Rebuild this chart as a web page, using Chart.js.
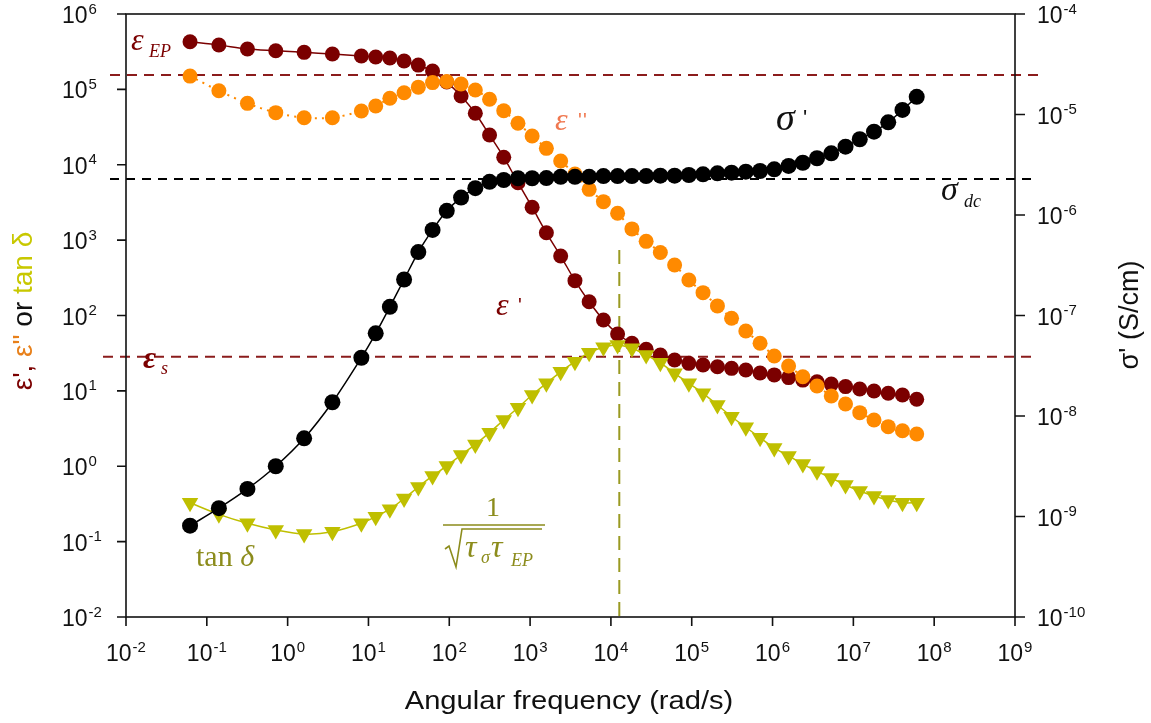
<!DOCTYPE html>
<html>
<head>
<meta charset="utf-8">
<script src="https://cdn.jsdelivr.net/npm/chart.js@4/dist/chart.umd.min.js"></script>
<style>
  html, body { margin: 0; padding: 0; background: #fff; }
  canvas { display: block; }
</style>
</head>
<body>
<canvas id="chart" width="1151" height="723"></canvas>
<script>
// angular frequency (rad/s), shared by all four series
const omega = [0.062, 0.141, 0.318, 0.713, 1.60, 3.58, 8.17, 12.3, 18.4, 27.6,
  41.4, 62.1, 93.1, 140, 210, 315, 472, 708, 1060, 1590,
  2390, 3590, 5380, 8080, 12100, 18200, 27300, 40900, 61400, 92200,
  138000, 208000, 311000, 467000, 701000, 1.05e6, 1.58e6, 2.37e6, 3.55e6, 5.33e6,
  8.0e6, 1.2e7, 1.8e7, 2.7e7, 4.05e7, 6.08e7];

// eps' (left axis)
const epsReal = [4.29e5, 3.88e5, 3.43e5, 3.26e5, 3.10e5, 2.95e5, 2.77e5, 2.69e5, 2.61e5, 2.38e5,
  2.10e5, 1.75e5, 1.25e5, 8.17e4, 4.82e4, 2.48e4, 1.26e4, 5.78e3, 2.73e3, 1.25e3,
  615, 290, 152, 87.1, 56.9, 42.8, 35.6, 29.9, 25.7, 23.2,
  22.0, 20.9, 19.9, 18.9, 17.3, 16.3, 15.0, 13.9, 13.2, 12.3,
  11.4, 10.6, 9.96, 9.29, 8.81, 7.73];

// eps'' (left axis)
const epsImag = [1.50e5, 9.59e4, 6.53e4, 4.91e4, 4.21e4, 4.21e4, 5.16e4, 6.02e4, 7.62e4, 9.04e4,
  1.07e5, 1.23e5, 1.27e5, 1.18e5, 9.82e4, 7.39e4, 5.21e4, 3.55e4, 2.41e4, 1.65e4,
  1.12e4, 7.54e3, 4.72e3, 3.24e3, 2.27e3, 1.41e3, 964, 685, 468, 296,
  201, 134, 91.8, 62.3, 42.8, 29.0, 21.4, 15.4, 11.6, 8.55,
  6.70, 5.14, 4.11, 3.35, 2.96, 2.68];

// tan delta (left axis)
const tanDelta = [0.328, 0.230, 0.175, 0.143, 0.126, 0.135, 0.175, 0.214, 0.269, 0.373,
  0.531, 0.743, 1.01, 1.41, 1.95, 2.79, 4.11, 5.98, 8.82, 12.6,
  17.9, 24.4, 32.1, 37.8, 40.6, 36.7, 29.9, 23.6, 17.1, 12.6,
  9.28, 6.50, 4.54, 3.29, 2.39, 1.75, 1.37, 1.07, 0.857, 0.699,
  0.564, 0.470, 0.403, 0.356, 0.328, 0.328];

// sigma' in S/cm (right axis)
const sigmaReal = [8.1e-10, 1.21e-9, 1.88e-9, 3.16e-9, 6.0e-9, 1.37e-8, 3.80e-8, 6.65e-8, 1.22e-7, 2.28e-7,
  4.28e-7, 7.1e-7, 1.10e-6, 1.49e-6, 1.85e-6, 2.14e-6, 2.23e-6, 2.32e-6, 2.32e-6, 2.33e-6,
  2.40e-6, 2.40e-6, 2.40e-6, 2.44e-6, 2.44e-6, 2.44e-6, 2.44e-6, 2.46e-6, 2.46e-6, 2.50e-6,
  2.54e-6, 2.60e-6, 2.64e-6, 2.70e-6, 2.74e-6, 2.85e-6, 3.08e-6, 3.31e-6, 3.67e-6, 4.11e-6,
  4.79e-6, 5.67e-6, 6.75e-6, 8.36e-6, 1.11e-5, 1.50e-5];

// reference levels
const epsEP = 1.55e5;
const epsS = 28.4;
const sigmaDC = 2.28e-6;
const omegaPeak = 1.27e4;
const omegaPeakTop = 740; // upper end of the vertical marker, left-axis units

// decade tick exponents
const xExps = [-2, -1, 0, 1, 2, 3, 4, 5, 6, 7, 8, 9];
const yExps = [-2, -1, 0, 1, 2, 3, 4, 5, 6];
const y2Exps = [-10, -9, -8, -7, -6, -5, -4];

const RED = '#7b0000';
const ORANGE = '#ff8a00';
const YELLOW = '#bfbf00';
const OLIVE = '#8c8c1c';
const SANS = '"Liberation Sans", Arial, sans-serif';
const SERIF = '"Liberation Serif", "Times New Roman", serif';

const pts = (ys) => omega.map((w, i) => ({ x: w, y: ys[i] }));

function txt(ctx, s, x, y, font, color, align, sx) {
  ctx.save();
  ctx.font = font;
  ctx.fillStyle = color;
  ctx.textAlign = align || 'left';
  ctx.textBaseline = 'alphabetic';
  ctx.translate(x, y);
  ctx.scale(sx || 1, 1);
  ctx.fillText(s, 0, 0);
  ctx.restore();
}

function dashed(ctx, x1, y1, x2, y2, color, dash) {
  ctx.save();
  ctx.strokeStyle = color;
  ctx.lineWidth = 2;
  ctx.setLineDash(dash);
  ctx.beginPath();
  ctx.moveTo(x1, y1);
  ctx.lineTo(x2, y2);
  ctx.stroke();
  ctx.restore();
}

// "10" with a raised exponent
function pow10(ctx, e, x, y, align) {
  const base = '23px ' + SANS, sup = '15px ' + SANS;
  ctx.font = base;
  const w1 = ctx.measureText('10').width;
  ctx.font = sup;
  const w2 = ctx.measureText(String(e)).width;
  const x0 = align === 'center' ? x - (w1 + w2 + 1) / 2 : x;
  txt(ctx, '10', x0, y, base, '#111');
  txt(ctx, String(e), x0 + w1 + 1, y - 9.5, sup, '#111');
}

// rotated multi-colour text, reading bottom to top
function vtext(ctx, parts, cx, cy, font) {
  ctx.save();
  ctx.font = font;
  const total = parts.reduce((s, p) => s + ctx.measureText(p[0]).width, 0);
  ctx.translate(cx, cy);
  ctx.rotate(-Math.PI / 2);
  let xx = -total / 2;
  ctx.textBaseline = 'alphabetic';
  parts.forEach((p) => {
    ctx.fillStyle = p[1];
    ctx.fillText(p[0], xx, 0);
    xx += ctx.measureText(p[0]).width;
  });
  ctx.restore();
}

const decor = {
  id: 'decor',
  beforeDatasetsDraw(chart) {
    const { ctx, chartArea: a, scales: { x, y, y2 } } = chart;
    const yEP = y.getPixelForValue(epsEP);
    const yS = y.getPixelForValue(epsS);
    const yDC = y2.getPixelForValue(sigmaDC);
    dashed(ctx, a.left - 16, yEP, a.right + 27, yEP, '#8b1c1c', [10, 7]);
    dashed(ctx, a.left - 16, yDC, a.right + 23, yDC, '#000', [9, 7]);
    dashed(ctx, a.left - 23, yS, a.right + 20, yS, '#8b1c1c', [10, 7]);
    const px = x.getPixelForValue(omegaPeak);
    dashed(ctx, px, y.getPixelForValue(omegaPeakTop), px, a.bottom, '#9a9a22', [14, 8]);
  },
  afterDraw(chart) {
    const { ctx, chartArea: a, scales: { x, y, y2 } } = chart;
    ctx.save();
    ctx.strokeStyle = '#111';
    ctx.lineWidth = 1.6;
    ctx.strokeRect(a.left, a.top, a.right - a.left, a.bottom - a.top);
    ctx.beginPath();
    xExps.forEach((e) => {
      const px = x.getPixelForValue(Math.pow(10, e));
      ctx.moveTo(px, a.bottom);
      ctx.lineTo(px, a.bottom + 9);
    });
    yExps.forEach((e) => {
      const py = y.getPixelForValue(Math.pow(10, e));
      ctx.moveTo(a.left - 9, py);
      ctx.lineTo(a.left, py);
    });
    y2Exps.forEach((e) => {
      const py = y2.getPixelForValue(Math.pow(10, e));
      ctx.moveTo(a.right, py);
      ctx.lineTo(a.right + 10, py);
    });
    ctx.stroke();
    ctx.restore();

    xExps.forEach((e) => pow10(ctx, e, x.getPixelForValue(Math.pow(10, e)), a.bottom + 44, 'center'));
    yExps.forEach((e) => pow10(ctx, e, 62, y.getPixelForValue(Math.pow(10, e)) + 9, 'left'));
    y2Exps.forEach((e) => pow10(ctx, e, 1037, y2.getPixelForValue(Math.pow(10, e)) + 9, 'left'));

    // axis titles
    txt(ctx, 'Angular frequency (rad/s)', 569, 709, '26px ' + SANS, '#111', 'center', 1.12);
    vtext(ctx, [["ε', ", RED], ['ε" ', '#e8801a'], ['or ', '#111'], ['tan δ', '#c8c800']], 32, 311, '28px ' + SANS);
    vtext(ctx, [["σ' (S/cm)", '#111']], 1138, 315, '27px ' + SANS);

    // curve annotations
    txt(ctx, 'ε', 131, 50, 'italic 32px ' + SERIF, RED);
    txt(ctx, 'EP', 149, 57, 'italic 18px ' + SERIF, RED);

    txt(ctx, 'ε', 555, 130, 'italic 32px ' + SERIF, '#f07850');
    txt(ctx, "'", 578, 127, '20px ' + SANS, '#f07850');
    txt(ctx, "'", 583, 127, '20px ' + SANS, '#f07850');

    txt(ctx, 'σ', 776, 130, 'italic 38px ' + SERIF, '#111');
    txt(ctx, "'", 803, 125, '22px ' + SANS, '#111');

    txt(ctx, 'σ', 941, 200, 'italic 34px ' + SERIF, '#111');
    txt(ctx, 'dc', 964, 207, 'italic 18px ' + SERIF, '#111');

    txt(ctx, 'ε', 496, 315, 'italic 32px ' + SERIF, RED);
    txt(ctx, "'", 518, 312, '20px ' + SANS, RED);

    txt(ctx, 'ε', 143, 368, 'bold italic 32px ' + SERIF, RED);
    txt(ctx, 's', 161, 374, 'italic 18px ' + SERIF, RED);

    txt(ctx, 'tan ', 196, 566, '30px ' + SERIF, OLIVE);
    ctx.font = '30px ' + SERIF;
    txt(ctx, 'δ', 196 + ctx.measureText('tan ').width, 566, 'italic 30px ' + SERIF, OLIVE);

    // 1 / sqrt(tau_sigma tau_EP)
    txt(ctx, '1', 493, 516, '28px ' + SERIF, OLIVE, 'center');
    ctx.save();
    ctx.strokeStyle = OLIVE;
    ctx.lineWidth = 1.6;
    ctx.beginPath();
    ctx.moveTo(443, 525);
    ctx.lineTo(545, 525);
    ctx.moveTo(445, 549);
    ctx.lineTo(449, 546);
    ctx.lineTo(456, 567);
    ctx.lineTo(462, 529);
    ctx.lineTo(542, 529);
    ctx.stroke();
    ctx.restore();
    txt(ctx, 'τ', 465, 557, 'italic 32px ' + SERIF, OLIVE);
    txt(ctx, 'σ', 481, 563, 'italic 18px ' + SERIF, OLIVE);
    txt(ctx, 'τ', 491, 557, 'italic 32px ' + SERIF, OLIVE);
    txt(ctx, 'EP', 511, 566, 'italic 18px ' + SERIF, OLIVE);
  }
};

new Chart(document.getElementById('chart'), {
  type: 'line',
  data: {
    datasets: [
      {
        label: "σ'",
        data: pts(sigmaReal),
        yAxisID: 'y2',
        borderColor: '#000',
        backgroundColor: '#000',
        borderWidth: 1.5,
        tension: 0.3,
        pointRadius: 8,
        pointBorderWidth: 0,
      },
      {
        label: 'tan δ',
        data: pts(tanDelta),
        yAxisID: 'y',
        borderColor: YELLOW,
        backgroundColor: YELLOW,
        borderWidth: 1.5,
        tension: 0.3,
        pointStyle: 'triangle',
        pointRotation: 180,
        pointRadius: 9.5,
        pointBorderWidth: 0,
      },
      {
        label: 'ε"',
        data: pts(epsImag),
        yAxisID: 'y',
        borderColor: ORANGE,
        backgroundColor: ORANGE,
        borderWidth: 2,
        borderDash: [2, 5],
        tension: 0.3,
        pointRadius: 7.5,
        pointBorderWidth: 0,
      },
      {
        label: "ε'",
        data: pts(epsReal),
        yAxisID: 'y',
        borderColor: RED,
        backgroundColor: RED,
        borderWidth: 1.5,
        tension: 0.3,
        pointRadius: 7.5,
        pointBorderWidth: 0,
      },
    ],
  },
  options: {
    responsive: false,
    animation: false,
    layout: { padding: { left: 126, right: 136, top: 14, bottom: 106 } },
    plugins: { legend: { display: false }, tooltip: { enabled: false } },
    scales: {
      x: { type: 'logarithmic', min: 1e-2, max: 1e9, display: false },
      y: { type: 'logarithmic', min: 1e-2, max: 1e6, display: false },
      y2: { type: 'logarithmic', min: 1e-10, max: 1e-4, display: false, position: 'right' },
    },
  },
  plugins: [decor],
});
</script>
</body>
</html>
